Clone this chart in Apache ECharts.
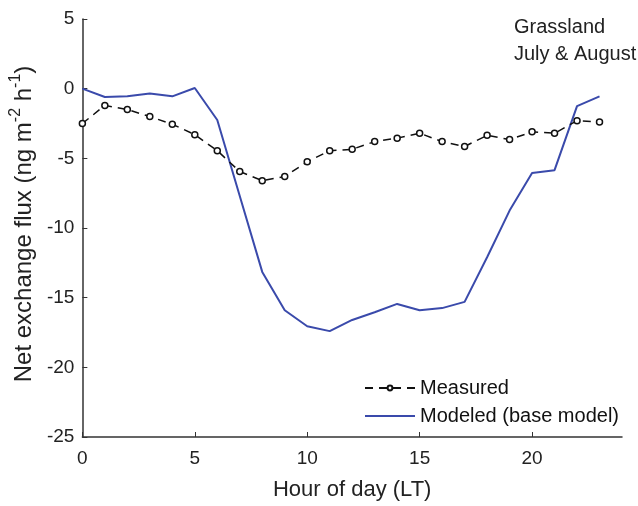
<!DOCTYPE html>
<html>
<head>
<meta charset="utf-8">
<script src="https://cdn.jsdelivr.net/npm/echarts@6/dist/echarts.min.js"></script>
<style>
  html, body { margin: 0; padding: 0; background: #fff; }
  #main { width: 638px; height: 506px; }
</style>
</head>
<body>
<div id="main"></div>
<script>
// hour of day
var hours = [0, 1, 2, 3, 4, 5, 6, 7, 8, 9, 10, 11, 12, 13, 14, 15, 16, 17, 18, 19, 20, 21, 22, 23];
// measured flux
var measured = [-2.5, -1.2, -1.5, -2.0, -2.55, -3.3, -4.45, -5.95, -6.6, -6.3, -5.25,
  -4.45, -4.35, -3.8, -3.55, -3.2, -3.8, -4.15, -3.35, -3.65, -3.1, -3.2, -2.3, -2.4];
// modeled (base model)
var modeled = [0.0, -0.6, -0.55, -0.35, -0.55, 0.05, -2.25, -7.7, -13.15, -15.9, -17.05,
  -17.4, -16.6, -16.05, -15.45, -15.9, -15.75, -15.3, -12.1, -8.75, -6.05, -5.85, -1.25, -0.55];
var xTicks = [0, 5, 10, 15, 20];

var font = 'Liberation Sans, Arial, sans-serif';
var pair = function (ys) { return hours.map(function (h, i) { return [h, ys[i]]; }); };

var chart = echarts.init(document.getElementById('main'));

var option = {
  backgroundColor: '#fff',
  animation: false,
  textStyle: { fontFamily: font },
  grid: { left: 82, right: 16, top: 19, bottom: 64 },
  xAxis: {
    type: 'value',
    min: 0,
    max: 24,
    interval: 5,
    name: 'Hour of day (LT)',
    nameLocation: 'middle',
    nameGap: 42,
    nameTextStyle: { fontSize: 22, color: '#222', fontFamily: font },
    axisLine: { show: true, onZero: false, lineStyle: { color: '#333', width: 1.5 } },
    axisTick: { show: true, inside: true, length: 5, customValues: xTicks, lineStyle: { color: '#333' } },
    axisLabel: { customValues: xTicks, fontSize: 19, color: '#222', margin: 12 },
    splitLine: { show: false }
  },
  yAxis: {
    type: 'value',
    min: -25,
    max: 5,
    interval: 5,
    name: '{n|Net exchange flux (ng m}{s|-2}{n| h}{s|-1}{n|)}',
    nameLocation: 'middle',
    nameRotate: 90,
    nameGap: 40,
    nameTextStyle: {
      color: '#222',
      padding: [0, 0, 0, 8],
      rich: {
        n: { fontSize: 24, fontFamily: font, color: '#222', lineHeight: 28, verticalAlign: 'bottom' },
        s: { fontSize: 16, fontFamily: font, color: '#222', lineHeight: 28, verticalAlign: 'top' }
      }
    },
    axisLine: { show: true, onZero: false, lineStyle: { color: '#333', width: 1.5 } },
    axisTick: { show: true, inside: true, length: 5, lineStyle: { color: '#333' } },
    axisLabel: { fontSize: 19, color: '#222', margin: 8 },
    splitLine: { show: false }
  },
  legend: {
    orient: 'vertical',
    left: 359,
    top: 373,
    itemWidth: 50,
    itemHeight: 6,
    itemGap: 8,
    textStyle: { fontSize: 20, color: '#111' },
    data: [
      'Measured',
      { name: 'Modeled (base model)', itemStyle: { color: 'rgba(0,0,0,0)', borderWidth: 0 } }
    ]
  },
  graphic: [
    { type: 'text', left: 514, top: 17, style: { text: 'Grassland', font: '20px ' + font, fill: '#222' } },
    { type: 'text', left: 514, top: 44, style: { text: 'July & August', font: '20px ' + font, fill: '#222' } }
  ],
  series: [
    {
      name: 'Modeled (base model)',
      type: 'line',
      data: pair(modeled),
      showSymbol: false,
      symbol: 'none',
      lineStyle: { color: '#3a4aab', width: 2 },
      itemStyle: { color: '#3a4aab' },
      z: 2
    },
    {
      name: 'Measured',
      type: 'line',
      data: pair(measured),
      symbol: 'circle',
      symbolSize: 6,
      lineStyle: { color: '#111', width: 1.5, type: [8, 6] },
      itemStyle: { color: '#fff', borderColor: '#111', borderWidth: 1.5 },
      z: 3
    }
  ]
};

chart.setOption(option);
</script>
</body>
</html>
